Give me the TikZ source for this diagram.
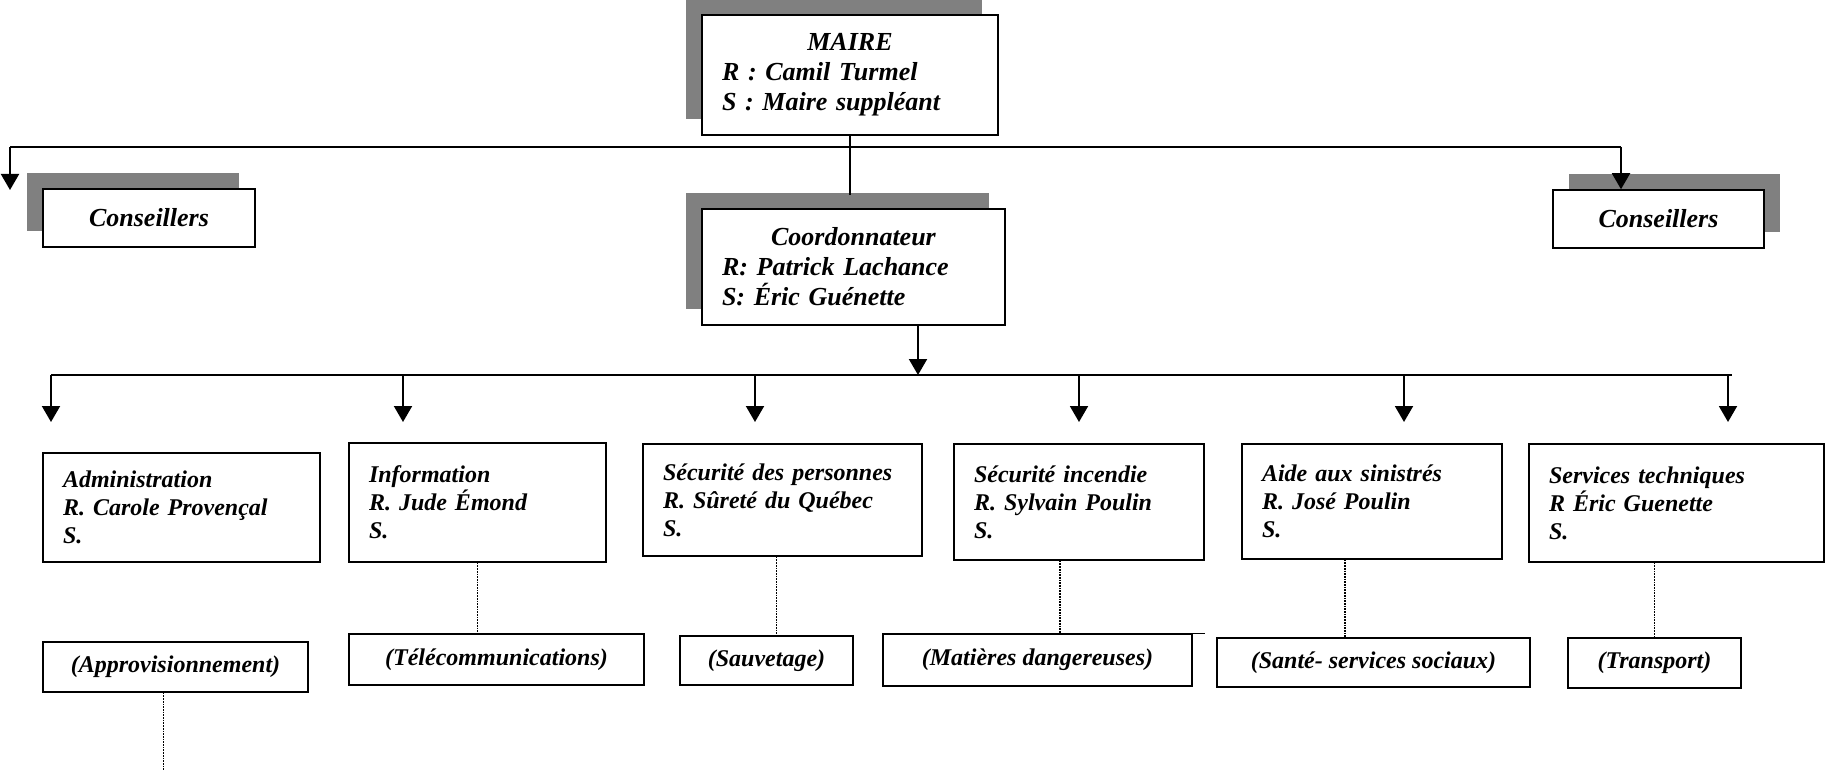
\documentclass[tikz,border=0pt]{standalone}
\usepackage{fontspec}
\setmainfont{Liberation Serif}
\usetikzlibrary{arrows.meta,shadows}

\begin{document}
\begin{tikzpicture}[x=1pt,y=-1pt,
    box/.style={draw,line width=1.5pt,fill=white,inner sep=0pt,
      font=\bfseries\itshape\fontsize{24}{28}\selectfont},
    chief/.style={box,align=left,inner xsep=20pt,
      font=\bfseries\itshape\fontsize{26}{30}\selectfont},
    shadowleft/.style={drop shadow={shadow xshift=-16pt,shadow yshift=16pt,fill=black!50,opacity=1}},
    shadowright/.style={drop shadow={shadow xshift=16pt,shadow yshift=16pt,fill=black!50,opacity=1}},
    unit/.style={box,align=left,inner xsep=20pt},
    sub/.style={box,align=center},
    link/.style={line width=2pt},
    arr/.style={-{Triangle[width=18pt,length=16pt]},line width=2pt},
    dots/.style={densely dotted,line width=1.7pt}]
  \useasboundingbox (0,0) rectangle (1829,770);

  % top of the chart
  \node[chief,shadowleft,text width=256pt,minimum height=120pt] (maire) at (850,75)
    {\makebox[256pt]{MAIRE}\\R : Camil Turmel\\S : Maire suppléant};
  \node[chief,shadowleft,text width=263pt,minimum height=116pt] (coord) at (853.5,267)
    {\makebox[263pt]{Coordonnateur}\\R: Patrick Lachance\\S: Éric Guénette};
  \node[chief,shadowleft,align=center,minimum width=212pt,minimum height=58pt] (consL) at (149,218) {Conseillers};
  \node[chief,shadowright,align=center,minimum width=211pt,minimum height=58pt] (consR) at (1658.5,219) {Conseillers};

  \coordinate (barL) at (10,147);
  \coordinate (barR) at (1621,147);
  \coordinate (tipL) at (10,190);
  \coordinate (coordtop) at (850,195);
  \draw[link] (barL) -- (barR);
  \draw[link] (maire.south) -- (coordtop);
  \draw[arr] (barL) -- (tipL);
  \draw[arr] (barR) -- (barR |- consR.north);

  % units
  \node[unit,text width=237pt,minimum height=109pt] (admin) at (181.5,507.5)
    {Administration\\R. Carole Provençal\\S.};
  \node[unit,text width=217pt,minimum height=119pt] (info) at (477.5,502.5)
    {Information\\R. Jude Émond\\S.};
  \node[unit,text width=239pt,minimum height=112pt] (secpers) at (782.5,500)
    {Sécurité des personnes\\R. Sûreté du Québec\\S.};
  \node[unit,text width=210pt,minimum height=116pt] (incendie) at (1079,502)
    {Sécurité incendie\\R. Sylvain Poulin\\S.};
  \node[unit,text width=220pt,minimum height=115pt] (aide) at (1372,501.5)
    {Aide aux sinistrés\\R. José Poulin\\S.};
  \node[unit,text width=255pt,minimum height=118pt] (services) at (1676.5,503)
    {Services techniques\\R Éric Guenette\\S.};

  \coordinate (busL) at (51,375);
  \coordinate (busR) at (1732,375);
  \coordinate (busM) at (918,375);
  \draw[link] (busL) -- (busR);
  \draw[arr] (coord.south -| busM) -- (busM);
  \foreach \x/\n in {51/a,403/b,755/c,1079/d,1404/e,1728/f}{
    \coordinate (top\n) at (\x,375);
    \coordinate (tip\n) at (\x,422);
    \draw[arr] (top\n) -- (tip\n);
  }

  % sub units
  \node[sub,minimum width=265pt,minimum height=50pt] (approv) at (175.5,667) {(Approvisionnement)};
  \node[sub,minimum width=295pt,minimum height=51pt] (telecom) at (496.5,659.5) {(Télécommunications)};
  \node[sub,minimum width=173pt,minimum height=49pt] (sauvetage) at (766.5,660.5) {(Sauvetage)};
  \node[sub,minimum width=309pt,minimum height=52pt] (matieres) at (1037.5,660) {(Matières dangereuses)};
  \node[sub,minimum width=313pt,minimum height=49pt] (sante) at (1373.5,662.5) {(Santé- services sociaux)};
  \node[sub,minimum width=173pt,minimum height=50pt] (transport) at (1654.5,663) {(Transport)};
  \draw[line width=1.5pt] (matieres.north east) -- ++(12,0);

  \draw[dots] ([xshift=-12pt]approv.south) -- ++(0,80);
  \draw[dots] (info.south) -- (info.south |- telecom.north);
  \draw[dots] ([xshift=-6pt]secpers.south) -- ++(0,80);
  \draw[dots] ([xshift=-19pt]incendie.south) -- ++(0,74);
  \draw[dots] ([xshift=-27pt]aide.south) -- ++(0,79);
  \draw[dots] (transport.north) -- (transport.north |- services.south);
\end{tikzpicture}
\end{document}
